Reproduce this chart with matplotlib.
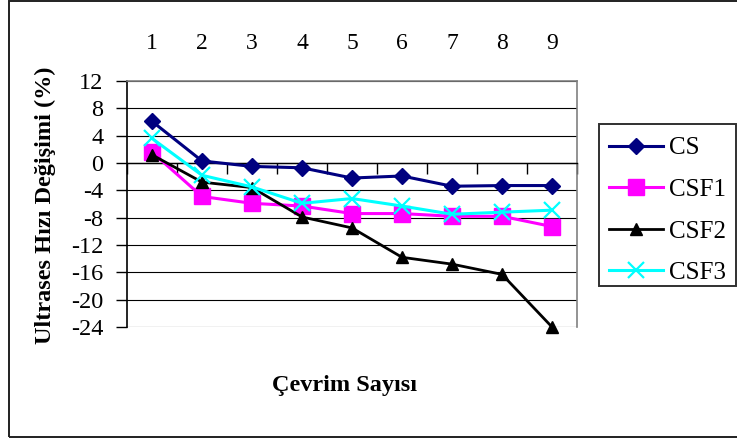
import matplotlib
matplotlib.use("Agg")
import matplotlib.pyplot as plt
from matplotlib.patches import Rectangle

# Cycle numbers and ultrasonic velocity change (%) for each mix
cycles = [1, 2, 3, 4, 5, 6, 7, 8, 9]
cs = [6.1, 0.3, -0.5, -0.7, -2.2, -1.9, -3.4, -3.3, -3.3]
csf1 = [1.6, -4.9, -5.9, -6.3, -7.4, -7.4, -7.8, -7.8, -9.3]
csf2 = [1.2, -2.8, -3.6, -7.9, -9.5, -13.8, -14.8, -16.3, -24.0]
csf3 = [3.6, -1.8, -3.5, -5.9, -5.2, -6.3, -7.5, -7.2, -6.9]
series_names = ["CS", "CSF1", "CSF2", "CSF3"]
y_ticks = [12, 8, 4, 0, -4, -8, -12, -16, -20, -24]

plt.rcParams["font.family"] = ["Liberation Serif", "DejaVu Serif"]

W, H = 737, 441
fig = plt.figure(figsize=(W / 100, H / 100), dpi=100)
ax = fig.add_axes([127 / W, 1 - 327 / H, 450 / W, 246 / H])

styles = [
    dict(color="#000080", marker="D", markersize=8.5, lw=2.2),
    dict(color="#FF00FF", marker="s", markersize=11, lw=2.2),
    dict(color="black", marker="^", markersize=8.5, lw=2.0),
    dict(color="#00FFFF", marker="x", markersize=12, markeredgewidth=1.6, lw=2.2),
]
handles = []
for vals, name, st in zip([cs, csf1, csf2, csf3], series_names, styles):
    ln, = ax.plot(cycles, vals, label=name, zorder=3, clip_on=False, **st)
    handles.append(ln)

ax.set_xlim(0.5, 9.5)
ax.set_ylim(-24, 12)
ax.set_yticks(y_ticks)
ax.set_yticklabels([str(v) for v in y_ticks])
ax.yaxis.grid(True, color="black", lw=0.8)
ax.set_axisbelow(True)

# Category labels across the top, boundary ticks on the zero line
ax.set_xticks(cycles)
ax.set_xticklabels([str(c) for c in cycles])
ax.set_xticks([c - 0.5 for c in cycles] + [9.5], minor=True)
ax.tick_params(axis="x", which="major", top=False, bottom=False,
               labeltop=True, labelbottom=False, pad=16, labelsize=17)
ax.tick_params(axis="x", which="minor", bottom=True, top=False,
               direction="out", length=8, width=1, color="black")
ax.spines["bottom"].set_position(("data", 0))
ax.spines["bottom"].set_color("black")
ax.spines["bottom"].set_linewidth(1)
ax.tick_params(axis="y", direction="out", length=8, width=1, pad=9,
               labelsize=17.5)
ax.spines["left"].set_color("black")
ax.spines["left"].set_linewidth(1.2)
for s in ("top", "right"):
    ax.spines[s].set_color("#808080")
    ax.spines[s].set_linewidth(1.2)

fig.text(45 / W, 1 - 205 / H, "Ultrases Hızı Değişimi (%)", rotation=90,
         ha="center", va="center", fontsize=17.5, fontweight="bold")
fig.text(344 / W, 1 - 385 / H, "Çevrim Sayısı", ha="center", va="center",
         fontsize=17.5, fontweight="bold")

# Outer chart border
fig.patches.append(Rectangle((9 / W, 1 - 437 / H), 760 / W, 436.5 / H,
                             transform=fig.transFigure, fill=False,
                             edgecolor="#202020", lw=1.4, clip_on=False))
# Legend box
fig.patches.append(Rectangle((599 / W, 1 - 286 / H), 137 / W, 162 / H,
                             transform=fig.transFigure, fill=False,
                             edgecolor="#303030", lw=1.4, clip_on=False))
leg = fig.legend(handles=handles, loc="upper left",
                 bbox_to_anchor=(609 / W, 1 - 137 / H), frameon=False,
                 fontsize=18, handlelength=2.16, handletextpad=0.24,
                 labelspacing=0.76, borderpad=0, borderaxespad=0,
                 numpoints=1)

fig.savefig("out.png", dpi=100)
